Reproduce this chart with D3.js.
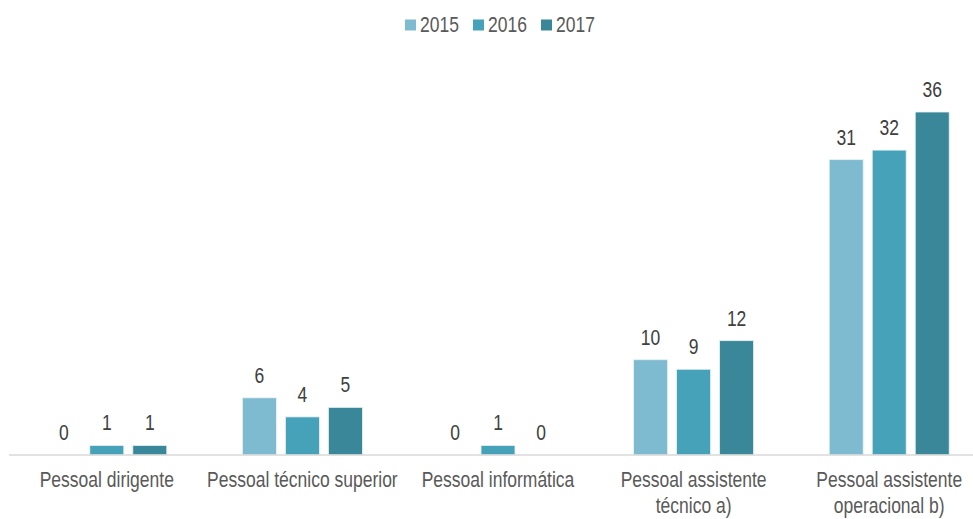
<!DOCTYPE html>
<html>
<head>
<meta charset="utf-8">
<script src="https://cdn.jsdelivr.net/npm/d3@7"></script>
<style>
  html, body { margin: 0; padding: 0; background: #fff; }
  svg { display: block; font-family: "Liberation Sans", Arial, sans-serif; }
</style>
</head>
<body>
<svg id="chart" width="973" height="519"></svg>
<script>
const categories = [
  ["Pessoal dirigente"],
  ["Pessoal técnico superior"],
  ["Pessoal informática"],
  ["Pessoal assistente", "técnico a)"],
  ["Pessoal assistente", "operacional b)"]
];
const seriesNames = ["2015", "2016", "2017"];
const values2015 = [0, 6, 0, 10, 31];
const values2016 = [1, 4, 1, 9, 32];
const values2017 = [1, 5, 0, 12, 36];
const colors = ["#7fbbd0", "#46a2b9", "#398798"];

const series = [values2015, values2016, values2017];
const svg = d3.select("#chart");
const SY = 1.22; // vertical stretch of text as in the reference

function label(x, yy, txt, opts) {
  const g = svg.append("g").attr("transform", `translate(${x},${yy}) scale(1,${SY})`);
  g.append("text")
    .attr("x", 0).attr("y", 0)
    .attr("text-anchor", opts.anchor || "middle")
    .attr("font-size", opts.size || 17.5)
    .attr("fill", opts.fill || "#595959")
    .text(txt);
  return g;
}

const x0 = d3.scaleBand().domain(d3.range(categories.length)).range([9, 987]).padding(0);
const x1 = d3.scaleBand().domain(d3.range(seriesNames.length)).range([-60, 60]).paddingInner(0.21);
const y = d3.scaleLinear().domain([0, 36]).range([455, 112]);

// bars
series.forEach((vals, si) => {
  svg.append("g").selectAll("rect").data(vals).enter().append("rect")
    .attr("x", (d, i) => x0(i) + x0.bandwidth() / 2 + x1(si))
    .attr("width", x1.bandwidth())
    .attr("y", d => y(d))
    .attr("height", d => y(0) - y(d))
    .attr("fill", colors[si])
    .attr("stroke", d => d > 0 ? "#e8f2f5" : "none")
    .attr("stroke-width", 0.8);
  vals.forEach((d, i) => {
    label(x0(i) + x0.bandwidth() / 2 + x1(si) + x1.bandwidth() / 2, y(d) - 15, d, { fill: "#404040" });
  });
});

// axis line
svg.append("line")
  .attr("x1", 9).attr("x2", 973)
  .attr("y1", y(0)).attr("y2", y(0))
  .attr("stroke", "#d9d9d9").attr("stroke-width", 1.5);

// category labels
categories.forEach((lines, i) => {
  lines.forEach((l, j) => {
    label(x0(i) + x0.bandwidth() / 2, 487 + j * 26, l, {});
  });
});

// legend
const legendX = [405, 473, 541];
seriesNames.forEach((s, i) => {
  svg.append("rect").attr("x", legendX[i]).attr("y", 19.5).attr("width", 11).attr("height", 11).attr("fill", colors[i]);
  label(legendX[i] + 15, 32, s, { anchor: "start" });
});
</script>
</body>
</html>
